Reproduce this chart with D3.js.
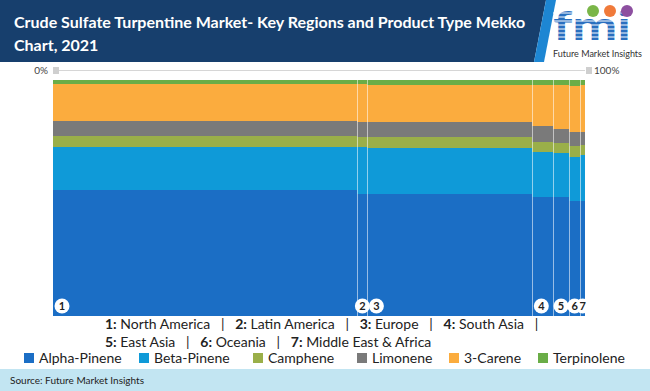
<!DOCTYPE html>
<html lang="en">
  <head>
    <meta charset="UTF-8"/>
    <title>Crude Sulfate Turpentine Mekko Chart</title>
    <script src="https://d3js.org/d3.v7.min.js"></script>
    <style>
      body { margin: 0; background: #fff; }
      text { font-family: 'Lato', 'Open Sans', sans-serif; }
      .title { font-size: 16px; font-weight: bold; fill: #fff; }
      .region-key { font-size: 14px; fill: #222; }
      .legend-label { font-size: 14px; fill: #222; }
      .pct { font-size: 10px; fill: #444; }
      .badge { font-size: 11px; font-weight: bold; fill: #222; }
    </style>
  </head>
  <body>
    <script type="text/javascript">

        // regions, left to right, and their share of the market (column width, %)
        const regions = ["North America", "Latin America", "Europe", "South Asia", "East Asia", "Oceania", "Middle East & Africa"]
        const regionShare = [57.2, 1.9, 31.0, 3.9, 3.0, 2.1, 0.9]

        // product types, bottom to top of each column
        const products = ["Alpha-Pinene", "Beta-Pinene", "Camphene", "Limonene", "3-Carene", "Terpinolene"]
        const colors = ["#1b6ec5", "#0f9ad8", "#9aaf49", "#7a7a7a", "#fbac3e", "#6aad47"]

        // product share inside each region (%), same order as products
        const alphaPinene = [53.2, 51.7, 51.9, 50.6, 50.4, 48.7, 48.8]
        const betaPinene  = [18.6, 19.8, 19.4, 19.1, 18.6, 18.8, 19.5]
        const camphene    = [4.4, 4.5, 4.7, 4.2, 4.2, 4.5, 4.2]
        const limonene    = [6.4, 6.4, 6.2, 6.5, 5.9, 6.1, 5.6]
        const carene      = [15.7, 15.7, 15.8, 17.5, 18.8, 19.4, 19.8]
        const terpinolene = [1.7, 1.9, 2.0, 2.1, 2.1, 2.5, 2.1]

        const axisLabels = ["0%", "100%"]
        const title = ["Crude Sulfate Turpentine Market- Key Regions and Product Type Mekko", "Chart, 2021"]
        const source = "Source: Future Market Insights"

        const width = 650, height = 391
        const plot = {left: 53, right: 585, top: 80, bottom: 316}

        const svg = d3.select("body").append("svg")
            .attr("width", width)
            .attr("height", height)

        // ---- header band
        svg.append("path")
            .attr("d", "M0,0 L546,0 L534,62 L0,62 Z")
            .attr("fill", "#173f6d")
        svg.append("path")
            .attr("d", "M546,0 L556,0 L544,62 L534,62 Z")
            .attr("fill", "#1d86d3")

        svg.selectAll(".title")
            .data(title)
            .join("text")
            .attr("class", "title")
            .attr("x", 14)
            .attr("y", (d, i) => 28 + i * 23)
            .text(d => d)

        // ---- logo
        const logo = svg.append("g").attr("transform", "translate(553,0)")
        logo.append("text")
            .attr("x", 0)
            .attr("y", 40)
            .attr("font-family", "DejaVu Serif")
            .attr("font-weight", "bold")
            .attr("font-size", 40)
            .attr("textLength", 78)
            .attr("lengthAdjust", "spacingAndGlyphs")
            .attr("fill", "#2a6fbf")
            .text("fmi")
        d3.range(13, 41, 4).forEach(y => {
            logo.append("line")
                .attr("x1", 0).attr("x2", 85)
                .attr("y1", y).attr("y2", y)
                .attr("stroke", "#fff")
                .attr("stroke-width", 1)
        })
        const dots = [{x: 40, c: "#7ab648"}, {x: 57, c: "#f07a3a"}, {x: 74, c: "#8d4fa0"}]
        logo.selectAll("circle")
            .data(dots)
            .join("circle")
            .attr("cx", d => d.x)
            .attr("cy", 11)
            .attr("r", 6)
            .attr("fill", d => d.c)
        logo.append("text")
            .attr("x", 0)
            .attr("y", 57)
            .attr("font-size", 9)
            .attr("fill", "#333")
            .text("Future Market Insights")

        // ---- scales
        const xScale = d3.scaleLinear().domain([0, 100]).range([plot.left, plot.right])
        const yScale = d3.scaleLinear().domain([0, 100]).range([plot.bottom, plot.top])
        const color = d3.scaleOrdinal().domain(products).range(colors)

        // ---- top 0% / 100% guide
        const guide = svg.append("g")
        guide.append("line")
            .attr("x1", xScale(0) + 5).attr("x2", xScale(100))
            .attr("y1", 70.5).attr("y2", 70.5)
            .attr("stroke", "#d6d6d6")
        guide.selectAll("rect")
            .data([0, 100])
            .join("rect")
            .attr("x", d => xScale(d) + (d === 0 ? 0 : 1))
            .attr("y", 67)
            .attr("width", 6)
            .attr("height", 7)
            .attr("fill", "#cfcfcf")
        guide.selectAll("text")
            .data([0, 100])
            .join("text")
            .attr("class", "pct")
            .attr("x", d => d === 0 ? xScale(d) - 5 : xScale(d) + 9)
            .attr("y", 74)
            .attr("text-anchor", d => d === 0 ? "end" : "start")
            .text((d, i) => axisLabels[i])

        // ---- build the mekko table
        const shares = [alphaPinene, betaPinene, camphene, limonene, carene, terpinolene]
        const cum = d3.cumsum(regionShare)
        const columns = regions.map((r, i) => {
            const x0 = cum[i] - regionShare[i]
            let y0 = 0
            const segs = products.map((p, j) => {
                const s = {product: p, y0: y0, y1: y0 + shares[j][i]}
                y0 += shares[j][i]
                return s
            })
            // stretch so the column fills exactly 100%
            segs.forEach(s => { s.y0 = s.y0 * 100 / y0; s.y1 = s.y1 * 100 / y0 })
            return {region: r, index: i + 1, x0: x0, x1: cum[i], segs: segs}
        })

        const colG = svg.selectAll(".column")
            .data(columns)
            .join("g")
            .attr("class", "column")

        colG.selectAll("rect")
            .data(d => d.segs.map(s => ({...s, x0: d.x0, x1: d.x1})))
            .join("rect")
            .attr("x", d => xScale(d.x0))
            .attr("width", d => xScale(d.x1) - xScale(d.x0))
            .attr("y", d => yScale(d.y1))
            .attr("height", d => yScale(d.y0) - yScale(d.y1))
            .attr("fill", d => color(d.product))
            .attr("shape-rendering", "crispEdges")

        // separators between columns
        svg.selectAll(".sep")
            .data(columns.slice(1))
            .join("line")
            .attr("class", "sep")
            .attr("x1", d => Math.round(xScale(d.x0)) + 0.5)
            .attr("x2", d => Math.round(xScale(d.x0)) + 0.5)
            .attr("y1", plot.top)
            .attr("y2", plot.bottom)
            .attr("stroke", "#ffffff")
            .attr("stroke-opacity", 0.55)

        // numbered badges at the foot of each column: circles first, numbers on top
        const badgeX = d => Math.min((xScale(d.x0) + xScale(d.x1)) / 2, xScale(d.x0) + 9)
        svg.selectAll(".badge-c")
            .data(columns)
            .join("circle")
            .attr("class", "badge-c")
            .attr("cx", badgeX)
            .attr("cy", 306)
            .attr("r", 7.5)
            .attr("fill", "#fff")
        svg.selectAll(".badge")
            .data(columns)
            .join("text")
            .attr("class", "badge")
            .attr("text-anchor", "middle")
            .attr("x", badgeX)
            .attr("y", 310)
            .text(d => d.index)

        // ---- region key
        const keyLines = [columns.slice(0, 4), columns.slice(4)]
        keyLines.forEach((line, li) => {
            const t = svg.append("text")
                .attr("class", "region-key")
                .attr("x", 105)
                .attr("y", 329 + li * 18)
                .attr("xml:space", "preserve")
            line.forEach((c, k) => {
                t.append("tspan").attr("font-weight", "bold").text(c.index + ":")
                t.append("tspan").text(" " + c.region)
                if (li === 0 || k < line.length - 1) t.append("tspan").text("   |   ")
            })
        })

        // ---- product legend
        const legendX = [24, 139, 253, 357, 449, 538]
        const legend = svg.selectAll(".legend")
            .data(products)
            .join("g")
            .attr("class", "legend")
            .attr("transform", (d, i) => `translate(${legendX[i]},353)`)
        legend.append("rect")
            .attr("width", 10)
            .attr("height", 10)
            .attr("fill", d => color(d))
        legend.append("text")
            .attr("class", "legend-label")
            .attr("x", 15)
            .attr("y", 10)
            .text(d => d)

        // ---- source band
        svg.append("rect")
            .attr("x", 0).attr("y", 369)
            .attr("width", width).attr("height", height - 369)
            .attr("fill", "#c2e5f2")
        svg.append("text")
            .attr("x", 10)
            .attr("y", 384)
            .attr("font-size", 10)
            .attr("fill", "#222")
            .text(source)

    </script>
  </body>
</html>
